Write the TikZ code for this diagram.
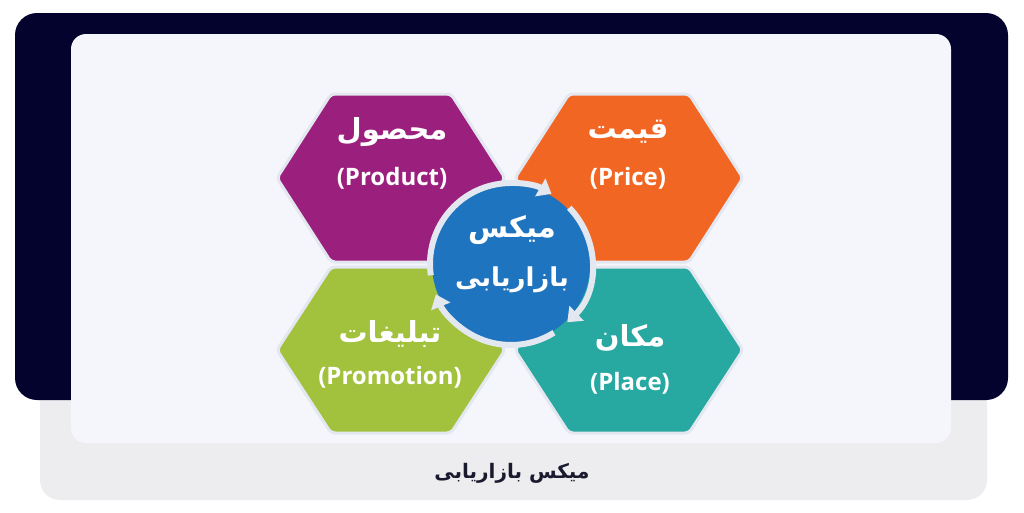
\documentclass[tikz,border=0pt]{standalone}
\usepackage{fontspec}
\setmainfont{Open Sans}
\newfontfamily\fa[Script=Arabic]{DejaVu Sans}
\TeXXeTstate=1
\usetikzlibrary{arrows.meta}
\definecolor{navy}{HTML}{03032D}
\definecolor{panel}{HTML}{F5F6FB}
\definecolor{graypanel}{HTML}{EDEDF0}
\definecolor{cpurple}{HTML}{9B1F7D}
\definecolor{corange}{HTML}{F26624}
\definecolor{cgreen}{HTML}{A2C13C}
\definecolor{cteal}{HTML}{27A8A1}
\definecolor{cblue}{HTML}{1F74C0}
\definecolor{ringc}{HTML}{E3E7EF}
\definecolor{captionc}{HTML}{1A1A2E}
\tikzset{
  hexbox/.style={draw=ringc, line width=3pt, rounded corners=4pt},
  fatext/.style={text=white, font=\fa\bfseries\fontsize{29}{32}\selectfont, inner sep=0pt},
  entext/.style={text=white, font=\bfseries\fontsize{24}{27}\selectfont, inner sep=0pt},
  ringarc/.style={draw=ringc, line width=6pt, -{Triangle[length=13pt,width=20pt]}},
}
\begin{document}
\begin{tikzpicture}[x=1pt,y=-1pt]
\useasboundingbox (0,0) rectangle (1024,512);
\fill[white] (0,0) rectangle (1024,512);
% panels
\fill[graypanel, rounded corners=20pt] (40,300) rectangle (987,500);
\fill[navy, rounded corners=22pt] (15,13) rectangle (1008,400);
\fill[panel, rounded corners=15pt] (71,34) rectangle (951,443);
% hexagons
\begin{scope}[shift={(391,178)}]
\draw[hexbox, fill=cpurple] (-114,0) -- (-60,-84) -- (60,-84) -- (114,0) -- (60,84) -- (-60,84) -- cycle;
\end{scope}
\begin{scope}[shift={(629,178)}]
\draw[hexbox, fill=corange] (-114,0) -- (-60,-84) -- (60,-84) -- (114,0) -- (60,84) -- (-60,84) -- cycle;
\end{scope}
\begin{scope}[shift={(391,350)}]
\draw[hexbox, fill=cgreen] (-114,0) -- (-60,-83) -- (60,-83) -- (114,0) -- (60,83) -- (-60,83) -- cycle;
\end{scope}
\begin{scope}[shift={(629,350)}]
\draw[hexbox, fill=cteal] (-114,0) -- (-60,-83) -- (60,-83) -- (114,0) -- (60,83) -- (-60,83) -- cycle;
\end{scope}
% center circle
\coordinate (c) at (511,264);
\fill[cblue] (c) circle[radius=79];
\draw[ringarc] (c) ++(172:81) arc[start angle=172, end angle=300, radius=81];
\draw[ringarc] (c) ++(-44:81) arc[start angle=-44, end angle=46, radius=81];
\draw[ringarc] (c) ++(58:81) arc[start angle=58, end angle=158, radius=81];
% texts
\node[fatext] (t1) at (392,132) {\beginR محصول\endR};
\node[entext] (e1) at (392,178) {(Product)};
\node[fatext] (t2) at (628,132) {\beginR قیمت\endR};
\node[entext] (e2) at (628,178) {(Price)};
\node[fatext] (t3) at (390,334) {\beginR تبلیغات\endR};
\node[entext] (e3) at (390,377) {(Promotion)};
\node[fatext] (t4) at (630,338) {\beginR مکان\endR};
\node[entext] (e4) at (630,383) {(Place)};
\node[fatext] (m1) at (512,230) {\beginR میکس\endR};
\node[fatext, font=\fa\bfseries\fontsize{26}{30}\selectfont] (m2) at (512,280) {\beginR بازاریابی\endR};
\node[text=captionc, font=\fa\bfseries\fontsize{20}{24}\selectfont, inner sep=0pt] (cap) at (512,473) {\beginR میکس بازاریابی\endR};
\end{tikzpicture}
\end{document}
